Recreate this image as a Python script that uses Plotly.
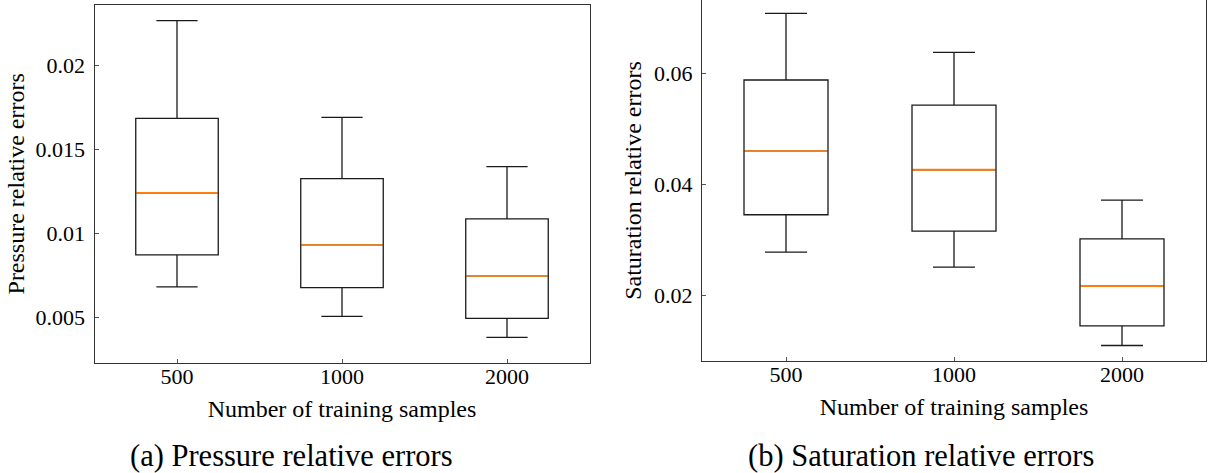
import plotly.graph_objects as go

categories = ["500", "1000", "2000"]

# Pressure relative errors (box statistics)
p_lower = [0.0068, 0.00505, 0.0038]
p_q1 = [0.0087, 0.00675, 0.00493]
p_median = [0.01239, 0.00928, 0.00745]
p_q3 = [0.01683, 0.01324, 0.01084]
p_upper = [0.02264, 0.01689, 0.01395]

# Saturation relative errors (box statistics)
s_lower = [0.02784, 0.02516, 0.01102]
s_q1 = [0.03458, 0.03164, 0.01456]
s_median = [0.04606, 0.04269, 0.02172]
s_q3 = [0.05886, 0.05434, 0.03025]
s_upper = [0.07088, 0.06384, 0.03722]

p_ticks = [0.005, 0.01, 0.015, 0.02]
p_ticktext = ["0.005", "0.01", "0.015", "0.02"]
s_ticks = [0.02, 0.04, 0.06]
s_ticktext = ["0.02", "0.04", "0.06"]

captions = ["(a) Pressure relative errors", "(b) Saturation relative errors"]

W, H = 1210, 473
FONT = "Liberation Serif"
positions = [i + 1 for i in range(len(categories))]
BOXW = 0.5

fig = go.Figure()


def add_panel(xa, ya, lower, q1, med, q3, upper):
    fig.add_trace(go.Box(
        x=positions, q1=q1, median=med, q3=q3,
        lowerfence=lower, upperfence=upper,
        width=BOXW, whiskerwidth=0.5,
        line=dict(color="#1a1a1a", width=1.3),
        fillcolor="rgba(0,0,0,0)",
        boxpoints=False, showlegend=False, hoverinfo="skip",
        xaxis=xa, yaxis=ya,
    ))
    mx, my = [], []
    for p, m in zip(positions, med):
        mx += [p - BOXW / 2 + 0.004, p + BOXW / 2 - 0.004, None]
        my += [m, m, None]
    fig.add_trace(go.Scatter(
        x=mx, y=my, mode="lines",
        line=dict(color="#ff7f0e", width=1.8),
        showlegend=False, hoverinfo="skip",
        xaxis=xa, yaxis=ya,
    ))


add_panel("x", "y", p_lower, p_q1, p_median, p_q3, p_upper)
add_panel("x2", "y2", s_lower, s_q1, s_median, s_q3, s_upper)

axis_common = dict(
    showgrid=False, zeroline=False, showline=True, linecolor="#333333",
    linewidth=1, ticks="inside", ticklen=4, tickcolor="#555555", tickwidth=1,
    tickfont=dict(family=FONT, size=22, color="black"),
    automargin=False,
)
xtitle = dict(text="Number of training samples",
              font=dict(family=FONT, size=24, color="black"), standoff=11)

fig.update_layout(
    width=W, height=H,
    margin=dict(l=0, r=0, t=0, b=0),
    paper_bgcolor="white", plot_bgcolor="white",
    font=dict(family=FONT),
    xaxis=dict(domain=[94.5 / W, 589.5 / W], range=[0.5, 3.5],
               tickvals=positions, ticktext=categories, mirror=True,
               anchor="y", title=xtitle, ticklabelstandoff=-6, **axis_common),
    yaxis=dict(domain=[1 - 363 / H, 1 - 4.7 / H], range=[0.00227, 0.02359],
               tickvals=p_ticks, ticktext=p_ticktext, mirror=True,
               anchor="x", ticklabelstandoff=4,
               title=dict(text="Pressure relative errors",
                          font=dict(family=FONT, size=24, color="black"), standoff=4),
               **axis_common),
    xaxis2=dict(domain=[702 / W, 1206 / W], range=[0.5, 3.5],
                tickvals=positions, ticktext=categories, mirror=False,
                anchor="y2", title=xtitle, ticklabelstandoff=-6, **axis_common),
    yaxis2=dict(domain=[1 - 361 / H, 1.0], range=[0.00823, 0.07328],
                tickvals=s_ticks, ticktext=s_ticktext, mirror=True,
                anchor="x2", ticklabelstandoff=4,
                title=dict(text="Saturation relative errors",
                           font=dict(family=FONT, size=24, color="black"), standoff=5),
                **axis_common),
)

cap_x = [291 / W, 921 / W]
for cx, text in zip(cap_x, captions):
    fig.add_annotation(x=cx, y=1 - 456 / H, xref="paper", yref="paper",
                       text=text, showarrow=False, xanchor="center", yanchor="middle",
                       font=dict(family=FONT, size=30.5, color="black"))

fig.write_html("out.html")
